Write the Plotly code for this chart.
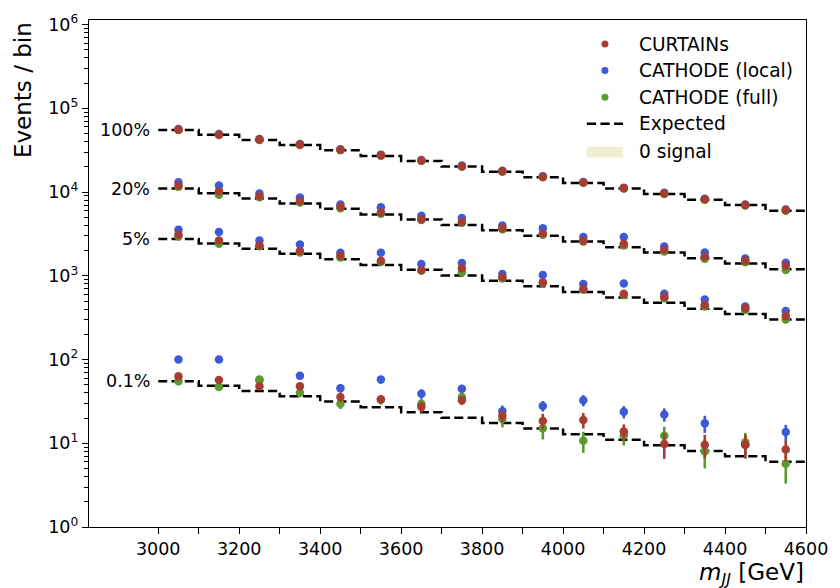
import math
import plotly.graph_objects as go

# ---------------- data ----------------
bin_edges = [3000, 3100, 3200, 3300, 3400, 3500, 3600, 3700, 3800, 3900,
             4000, 4100, 4200, 4300, 4400, 4500, 4600]
bin_centers = [3050, 3150, 3250, 3350, 3450, 3550, 3650, 3750, 3850, 3950,
               4050, 4150, 4250, 4350, 4450, 4550]

region_labels = ["100%", "20%", "5%", "0.1%"]

expected_100 = [55000, 48500, 42000, 36500, 31500, 27000, 23500, 20200,
                17500, 15000, 12800, 11000, 9500, 8100, 7000, 6000]
expected_20 = [11000, 9700, 8400, 7300, 6300, 5400, 4700, 4040,
               3500, 3000, 2560, 2200, 1900, 1620, 1400, 1200]
expected_5 = [2750, 2430, 2100, 1830, 1580, 1350, 1180, 1010,
              875, 750, 640, 550, 475, 405, 350, 300]
expected_01 = [55, 48.5, 42, 36.5, 31.5, 27, 23.5, 20.2,
               17.5, 15, 12.8, 11, 9.5, 8.1, 7, 6]

curtains_100 = [55500, 48500, 42500, 37000, 32000, 27500, 23800, 20300,
                17700, 15200, 13000, 11100, 9600, 8200, 7000, 6100]
cathode_local_100 = [56500, 49500, 43000, 37500, 32500, 28000, 24200, 20700,
                     18000, 15500, 13200, 11300, 9800, 8300, 7100, 6200]
cathode_full_100 = [55000, 48000, 42000, 36500, 31700, 27200, 23500, 20100,
                    17500, 15000, 12900, 11000, 9500, 8100, 6900, 6000]

curtains_20 = [12000, 10200, 8900, 7800, 6700, 5700, 4750, 4400,
               3700, 3200, 2640, 2420, 2050, 1700, 1510, 1320]
cathode_local_20 = [13100, 12000, 9600, 8600, 7100, 6600, 5200, 4900,
                    4000, 3700, 2900, 2900, 2240, 1900, 1610, 1430]
cathode_full_20 = [11600, 9300, 8700, 7500, 6400, 5500, 4650, 4300,
                   3600, 3100, 2560, 2300, 1950, 1600, 1450, 1170]

curtains_5 = [3100, 2640, 2300, 1980, 1730, 1510, 1170, 1230,
              960, 840, 700, 610, 560, 450, 410, 330]
cathode_local_5 = [3560, 3340, 2640, 2370, 1890, 1890, 1380, 1420,
                   1050, 1020, 800, 810, 610, 520, 430, 380]
cathode_full_5 = [2950, 2420, 2250, 1900, 1650, 1460, 1150, 1100,
                  930, 820, 680, 590, 540, 430, 390, 300]

curtains_01 = [63, 57, 48, 48, 35.6, 33.5, 27.2, 32.6,
               21.3, 18.5, 19, 13.8, 9.8, 9.6, 9.6, 8.4]
curtains_01_err = [5, 5, 5, 5, 4.5, 4, 4, 4, 3.5, 4, 4, 3, 3.3, 3, 3, 2.3]
cathode_local_01 = [100, 100, 57, 64, 45.5, 57.6, 39, 44.7,
                    24.2, 27.9, 32.6, 23.8, 22.1, 17.3, 9.6, 13.6]
cathode_local_01_err = [5, 5, 5, 6, 5, 6, 5, 5, 4, 4, 5, 4, 4, 4, 3, 3]
cathode_full_01 = [55, 47, 57.6, 40, 29.7, 33, 29.7, 35.6,
                   19.5, 15.1, 10.7, 12.4, 12.3, 8.0, 10.3, 5.7]
cathode_full_01_err = [5, 4.5, 5, 4.5, 4, 4, 4, 4, 4, 4, 3, 3, 3.5, 3, 3, 2.4]

legend_labels = ["CURTAINs", "CATHODE (local)", "CATHODE (full)", "Expected", "0 signal"]

# ---------------- style ----------------
RED = "#a83c32"
BLUE = "#3a5ad8"
GREEN = "#5a9a2e"
PATCH = "#efefd2"
FONT = "DejaVu Sans"

fig = go.Figure()

expected_sets = [expected_100, expected_20, expected_5, expected_01]
method_sets = [
    (BLUE, [cathode_local_100, cathode_local_20, cathode_local_5, cathode_local_01],
     [None, None, None, cathode_local_01_err]),
    (GREEN, [cathode_full_100, cathode_full_20, cathode_full_5, cathode_full_01],
     [None, None, None, cathode_full_01_err]),
    (RED, [curtains_100, curtains_20, curtains_5, curtains_01],
     [None, None, None, curtains_01_err]),
]

# expected step lines
for exp in expected_sets:
    fig.add_trace(go.Scatter(
        x=bin_edges, y=exp + [exp[-1]], mode="lines", line_shape="hv",
        line=dict(color="black", width=2.5, dash="9px,4.3px"),
        showlegend=False, hoverinfo="skip"))

# points
for color, sets, errs in method_sets:
    for vals, err in zip(sets, errs):
        kw = {}
        if err is not None:
            kw["error_y"] = dict(type="data", array=err, visible=True,
                                 color=color, thickness=2.6, width=0)
        fig.add_trace(go.Scatter(
            x=bin_centers, y=vals, mode="markers",
            marker=dict(color=color, size=8.5, line=dict(width=0)),
            showlegend=False, **kw))

# region labels
annotations = []
for lab, exp in zip(region_labels, expected_sets):
    annotations.append(dict(
        x=bin_edges[0], y=math.log10(exp[0]), xref="x", yref="y",
        text=lab, showarrow=False, xanchor="right", yanchor="middle",
        xshift=-6, font=dict(family=FONT, size=17.5, color="black")))

# axis titles
annotations.append(dict(
    x=-0.092, y=1.0, xref="paper", yref="paper", text="Events / bin",
    textangle=-90, showarrow=False, xanchor="center", yanchor="top",
    font=dict(family=FONT, size=23, color="black")))
annotations.append(dict(
    x=1.0, y=-0.06, xref="paper", yref="paper",
    text="<i>m</i><sub><i>JJ</i></sub> [GeV]",
    showarrow=False, xanchor="right", yanchor="top",
    font=dict(family=FONT, size=23, color="black")))

# manual legend
L, R, T, B = 89, 813, 12, 527
def px_x(p):
    return (p - L) / (R - L)
def px_y(p):
    return (B - p) / (B - T)

rows = [36.5, 63.3, 90.5, 117.5, 145.5]
shapes = []
for color, ry in zip([RED, BLUE, GREEN], rows[:3]):
    shapes.append(dict(type="circle", xref="paper", yref="paper",
                       xsizemode="pixel", ysizemode="pixel",
                       xanchor=px_x(610), yanchor=px_y(ry),
                       x0=-3.5, x1=3.5, y0=-3.5, y1=3.5,
                       fillcolor=color, line=dict(width=0)))
shapes.append(dict(type="line", xref="paper", yref="paper",
                   x0=px_x(591.7), x1=px_x(628.3), y0=px_y(rows[3]), y1=px_y(rows[3]),
                   line=dict(color="black", width=2.5, dash="9.3px,4.3px")))
shapes.append(dict(type="rect", xref="paper", yref="paper",
                   x0=px_x(591.7), x1=px_x(628.3), y0=px_y(151.7), y1=px_y(140.7),
                   fillcolor=PATCH, line=dict(width=0)))
for lab, ry in zip(legend_labels, rows):
    annotations.append(dict(
        x=px_x(642.7), y=px_y(ry), xref="paper", yref="paper", text=lab,
        showarrow=False, xanchor="left", yanchor="middle",
        font=dict(family=FONT, size=18.6, color="black")))

ytick_vals = [1, 10, 100, 1000, 10000, 100000, 1000000]
ytick_text = ["10<sup>%d</sup>" % i for i in range(7)]
y_minor = [m * 10 ** k for k in range(6) for m in range(2, 10)]
xtick_vals = [3000, 3200, 3400, 3600, 3800, 4000, 4200, 4400, 4600]
x_minor = [3100, 3300, 3500, 3700, 3900, 4100, 4300, 4500]

fig.update_layout(
    width=840, height=588,
    margin=dict(l=L, r=840 - R, t=T, b=588 - B),
    paper_bgcolor="white", plot_bgcolor="white",
    font=dict(family=FONT, size=17.5, color="black"),
    showlegend=False,
    annotations=annotations, shapes=shapes,
    xaxis=dict(range=[2829, 4600], showgrid=False, zeroline=False,
               showline=True, linecolor="black", linewidth=1.4, mirror=True,
               ticks="outside", ticklen=6, tickwidth=1.3, tickcolor="black",
               tickmode="array", tickvals=xtick_vals,
               ticktext=[str(v) for v in xtick_vals],
               tickfont=dict(family=FONT, size=17.5),
               minor=dict(tickmode="array", tickvals=x_minor, ticks="outside",
                          ticklen=6, tickwidth=1.3, tickcolor="black", showgrid=False)),
    yaxis=dict(type="log", range=[0, 6.055], showgrid=False, zeroline=False,
               showline=True, linecolor="black", linewidth=1.4, mirror=True,
               ticks="outside", ticklen=6, tickwidth=1.3, tickcolor="black",
               tickmode="array", tickvals=ytick_vals, ticktext=ytick_text,
               tickfont=dict(family=FONT, size=17.5),
               minor=dict(tickmode="array", tickvals=y_minor, ticks="outside",
                          ticklen=3.5, tickwidth=1.0, tickcolor="black", showgrid=False)),
)

fig.write_html("out.html")
